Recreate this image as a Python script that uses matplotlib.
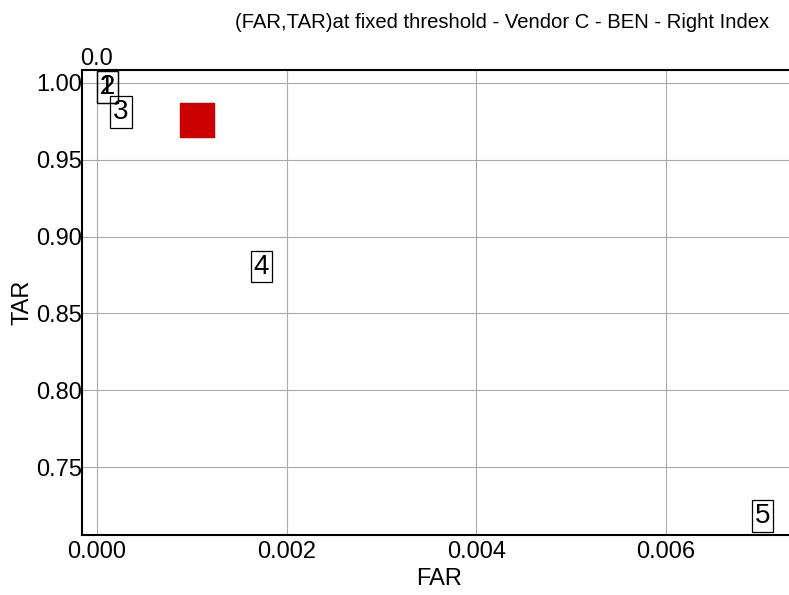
import matplotlib
matplotlib.use("Agg")
import matplotlib.pyplot as plt

plt.rcParams['font.family'] = ['Liberation Sans', 'DejaVu Sans']

labels = ["1", "2", "3", "4", "5"]
far = [0.000106, 0.000110, 0.000253, 0.00173, 0.00702]
tar = [0.9975, 0.9972, 0.9812, 0.8805, 0.7182]
sel_far = [0.00105]
sel_tar = [0.976]
xticks = [0.000, 0.002, 0.004, 0.006]
yticks = [0.75, 0.80, 0.85, 0.90, 0.95, 1.00]

fig = plt.figure(figsize=(7.89, 5.95), dpi=100)
ax = fig.add_axes([82/789, 60/595, (789-82)/789 + 0.01, (535-70)/595])
ax.set_xlim(-0.000158, 0.00738)
ax.set_ylim(0.7058, 1.0084)

ax.scatter(sel_far, sel_tar, marker='s', s=600, color='#cc0000', zorder=3)
for l, x, y in zip(labels, far, tar):
    ax.text(x, y, l, fontsize=20, ha='center', va='center', zorder=4,
            bbox=dict(boxstyle='square,pad=0.1', fc='none', ec='black', lw=0.9))

ax.set_xticks(xticks)
ax.set_xticklabels([f"{v:.3f}" for v in xticks])
ax.set_yticks(yticks)
ax.set_yticklabels([f"{v:.2f}" for v in yticks])
ax.tick_params(labelsize=17, length=0)
ax.tick_params(axis='y', pad=0)
ax.tick_params(axis='x', pad=4)
ax.grid(True, color='#aaaaaa', lw=0.8)
ax.set_axisbelow(True)
for s in ['left', 'top', 'bottom']:
    ax.spines[s].set_color('black')
    ax.spines[s].set_linewidth(1.5)
ax.spines['right'].set_visible(False)

ax.set_xlabel("FAR", fontsize=17, labelpad=4)
ax.set_ylabel("TAR", fontsize=17, labelpad=2)
fig.text(0.636, 0.962, "(FAR,TAR)at fixed threshold - Vendor C - BEN - Right Index",
         fontsize=14.6, ha='center', va='center')
ax.text(0.0, 1.0, "0.0", transform=ax.get_xaxis_transform(), fontsize=17,
        ha='center', va='bottom')

fig.savefig("out.png", dpi=100)
